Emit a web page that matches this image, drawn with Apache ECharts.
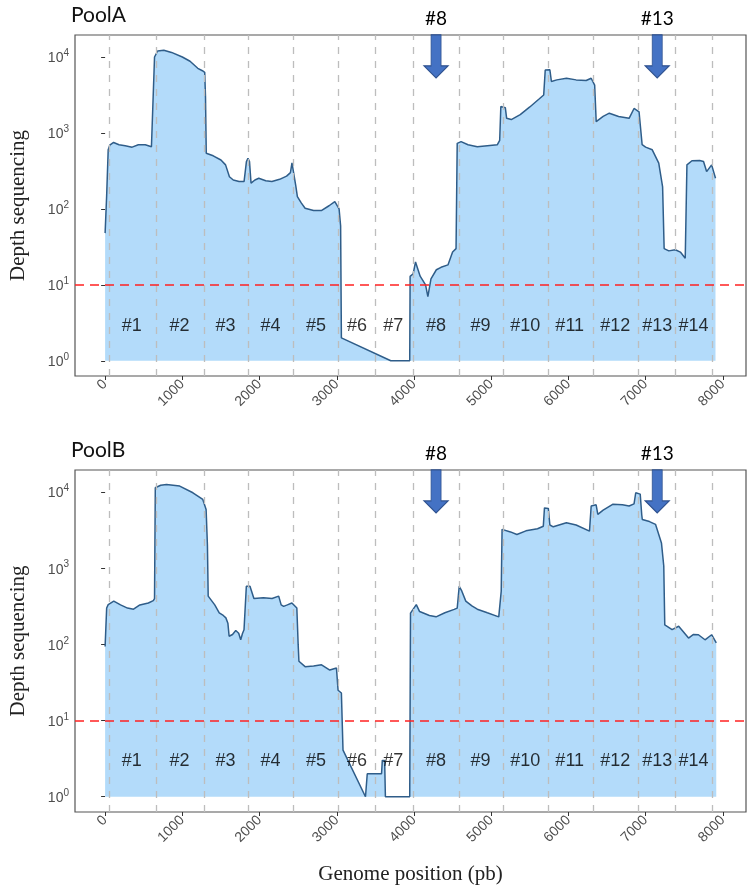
<!DOCTYPE html>
<html>
<head>
<meta charset="utf-8">
<script src="https://cdn.jsdelivr.net/npm/echarts@6/dist/echarts.min.js"></script>
<style>
  html, body { margin: 0; padding: 0; background: #fff; }
  #chart { width: 748px; height: 887px; }
</style>
</head>
<body>
<div id="chart"></div>
<script>
// amplicon boundaries and names
const boundaries = [50, 665, 1278, 1850, 2440, 3020, 3498, 3988, 4582, 5160, 5744, 6325, 6908, 7390, 7868]
const ampNames = ['#1', '#2', '#3', '#4', '#5', '#6', '#7', '#8', '#9', '#10', '#11', '#12', '#13', '#14']
const ampCenters = [346, 962, 1560, 2141, 2731, 3261, 3731, 4286, 4863, 5440, 6017, 6607, 7150, 7619]
const arrowNames = ['#8', '#13']
const arrowPos = [4286, 7150]
const threshold = 10
const yTicks = [1, 10, 100, 1000, 10000]
const xTicks = [0, 1000, 2000, 3000, 4000, 5000, 6000, 7000, 8000]

// PoolA coverage
const posA = [0, 20, 40, 60, 110, 180, 260, 350, 430, 520, 600, 625, 640, 680, 760, 860, 1000, 1100, 1200, 1260,
  1290, 1300, 1310, 1400, 1500, 1560, 1610, 1660, 1735, 1800, 1830, 1850, 1870, 1890, 1940, 1990, 2080, 2160,
  2260, 2350, 2400, 2420, 2440, 2470, 2490, 2540, 2590, 2700, 2800, 2900, 2975, 3030, 3050, 3060, 3700, 3945,
  3950, 3990, 4020, 4080, 4150, 4180, 4220, 4290, 4350, 4440, 4500, 4545, 4560, 4610, 4700, 4820, 4950, 5080,
  5110, 5125, 5183, 5200, 5260, 5376, 5500, 5620, 5680, 5700, 5760, 5780, 5850, 5975, 6100, 6230, 6295, 6340,
  6360, 6450, 6530, 6650, 6786, 6850, 6915, 6955, 7000, 7086, 7170, 7220, 7240, 7300, 7385, 7450, 7513, 7535,
  7600, 7700, 7750, 7790, 7855, 7905]
const depthA = [48, 150, 600, 690, 750, 700, 680, 650, 700, 700, 660, 660, 10000, 12000, 12300, 11500, 10000, 8800, 7100, 6600,
  6300, 3000, 540, 500, 440, 380, 265, 240, 230, 230, 420, 465, 420, 218, 240, 253, 235, 230,
  245, 270, 300, 405, 400, 200, 145, 120, 102, 95, 95, 110, 125, 100, 60, 2.0, 1, 1,
  12.9, 14, 20, 13, 10, 7, 12, 15.8, 17, 18.3, 27, 30, 730, 770, 700, 660, 680, 700,
  800, 2230, 2150, 1560, 1500, 1740, 2200, 2800, 3160, 6760, 6800, 4760, 5000, 5250, 5000, 4900, 5250, 4270,
  1410, 1650, 1820, 1650, 1560, 2100, 1900, 700, 650, 600, 400, 195, 30, 28, 29, 27, 22.4, 380,
  430, 435, 420, 310, 380, 253]

// PoolB coverage
const posB = [0, 20, 40, 112, 200, 290, 368, 450, 560, 624, 640, 650, 720, 795, 966, 1137, 1265, 1308, 1325, 1335,
  1420, 1478, 1530, 1564, 1590, 1606, 1650, 1692, 1730, 1756, 1780, 1799, 1829, 1876, 1927, 2050, 2162, 2248,
  2280, 2312, 2360, 2419, 2483, 2500, 2510, 2590, 2700, 2803, 2910, 2996, 3017, 3060, 3081, 3372, 3392, 3395,
  3580, 3590, 3620, 3630, 3945, 3955, 4030, 4073, 4200, 4286, 4400, 4521, 4560, 4586, 4620, 4671, 4750, 4820,
  4950, 5098, 5130, 5141, 5250, 5333, 5450, 5600, 5675, 5690, 5740, 5760, 5804, 5974, 6100, 6273, 6295, 6359,
  6381, 6450, 6573, 6700, 6786, 6850, 6872, 6930, 6950, 6957, 7050, 7128, 7205, 7235, 7248, 7343, 7428, 7480,
  7556, 7620, 7684, 7769, 7855, 7915]
const depthB = [94, 300, 333, 370, 330, 300, 290, 330, 350, 375, 400, 11400, 12300, 12600, 12000, 9800, 8000, 5900, 2000, 430,
  330, 260, 240, 223, 190, 128, 135, 152, 140, 115, 140, 156, 580, 580, 400, 410, 400, 430,
  330, 316, 330, 350, 300, 100, 60, 51, 52, 54, 46, 49, 25, 23, 4.1, 1, 1, 2,
  2, 3, 3, 1, 1, 258, 333, 270, 240, 230, 260, 288, 300, 580, 500, 370, 320, 290,
  260, 230, 500, 3240, 3000, 2770, 3100, 3300, 3560, 6200, 6100, 3700, 3500, 3960, 3700, 3070, 6560, 6800,
  5100, 5800, 6900, 6800, 6560, 7000, 9800, 9400, 5000, 4370, 4100, 3770, 2150, 1070, 180, 156, 173, 150,
  121, 135, 134, 115, 134, 105]

const chart = echarts.init(document.getElementById('chart'))

const tickColor = '#4d4d4d'
const sansFont = 'Liberation Sans'

function zip(xs, ys) {
  return xs.map((x, i) => [x, ys[i]])
}

function makeXAxis(idx, showName) {
  return {
    type: 'value',
    gridIndex: idx,
    min: -390,
    max: 8300,
    axisLine: { show: false },
    splitLine: { show: false },
    axisTick: { show: true, length: 4, customValues: xTicks, lineStyle: { color: '#333' } },
    axisLabel: {
      customValues: xTicks,
      rotate: 45,
      color: tickColor,
      fontSize: 14,
      fontFamily: sansFont,
      margin: 6,
      formatter: v => String(v)
    },
    name: showName ? 'Genome position (pb)' : '',
    nameLocation: 'middle',
    nameGap: 52,
    nameTextStyle: { fontFamily: 'Liberation Serif', fontSize: 21, color: '#222' }
  }
}

function makeYAxis(idx) {
  return {
    type: 'log',
    logBase: 10,
    gridIndex: idx,
    min: 0.63,
    max: 19500,
    axisLine: { show: false },
    splitLine: { show: false },
    axisTick: { show: true, length: 4, customValues: yTicks, lineStyle: { color: '#333' } },
    axisLabel: {
      customValues: yTicks,
      margin: 6,
      formatter: v => '{b|10}{s|' + Math.round(Math.log10(v)) + '}',
      rich: {
        b: { fontSize: 14, color: tickColor, fontFamily: sansFont, lineHeight: 17, verticalAlign: 'bottom' },
        s: { fontSize: 10, color: tickColor, fontFamily: sansFont, verticalAlign: 'top' }
      }
    },
    name: 'Depth sequencing',
    nameLocation: 'middle',
    nameGap: 46,
    nameTextStyle: { fontFamily: 'Liberation Serif', fontSize: 21, color: '#222' }
  }
}

function lineSeries(idx, pos, depth) {
  return {
    type: 'line',
    xAxisIndex: idx,
    yAxisIndex: idx,
    z: 2,
    data: zip(pos, depth),
    symbol: 'none',
    smooth: false,
    lineStyle: { color: '#2f5d89', width: 1.5 },
    areaStyle: { color: '#b3dbfa', opacity: 1, origin: 1 },
    markLine: {
      silent: true,
      symbol: 'none',
      label: { show: false },
      data: [
        ...boundaries.map(b => ({ xAxis: b, lineStyle: { color: '#bdbdbd', type: [7, 7], width: 1.3 } })),
        { yAxis: threshold, lineStyle: { color: '#f22', type: [9, 6], width: 1.5 } }
      ]
    }
  }
}

function labelSeries(idx) {
  return {
    type: 'scatter',
    xAxisIndex: idx,
    yAxisIndex: idx,
    z: 10,
    symbolSize: 1,
    itemStyle: { color: 'rgba(0,0,0,0)' },
    silent: true,
    data: ampNames.map((n, i) => ({ name: n, value: [ampCenters[i], 2.9] })),
    label: {
      show: true,
      position: 'inside',
      formatter: '{b}',
      color: '#000',
      fontSize: 18,
      fontFamily: sansFont
    },
    labelLayout: { hideOverlap: false },
    markPoint: {
      silent: true,
      symbol: 'path://M7,0 L17,0 L17,31 L24,31 L12,43 L0,31 L7,31 Z',
      symbolSize: [24, 43],
      symbolKeepAspect: false,
      itemStyle: { color: '#4472c4', borderColor: '#2f528f', borderWidth: 1, opacity: 1 },
      label: {
        show: true,
        position: 'top',
        distance: 6,
        formatter: '{b}',
        color: '#000',
        fontSize: 19,
        fontFamily: 'Lato'
      },
      data: arrowNames.map((n, i) => ({ name: n, coord: [arrowPos[i], 10200] }))
    }
  }
}

const option = {
  animation: false,
  title: [
    { text: 'PoolA', left: 66, top: 0, textStyle: { fontFamily: 'Lato', fontSize: 21, fontWeight: 'normal', color: '#111' } },
    { text: 'PoolB', left: 66, top: 435, textStyle: { fontFamily: 'Lato', fontSize: 21, fontWeight: 'normal', color: '#111' } }
  ],
  grid: [
    { left: 68, right: 2, top: 35, height: 341, show: true, borderColor: '#555', borderWidth: 1.2, backgroundColor: '#fff' },
    { left: 68, right: 2, top: 470, height: 342, show: true, borderColor: '#555', borderWidth: 1.2, backgroundColor: '#fff' }
  ],
  xAxis: [makeXAxis(0, false), makeXAxis(1, true)],
  yAxis: [makeYAxis(0), makeYAxis(1)],
  series: [
    lineSeries(0, posA, depthA),
    lineSeries(1, posB, depthB),
    labelSeries(0),
    labelSeries(1)
  ]
}

chart.setOption(option)

window.onresize = () => {
  chart.resize()
}
</script>
</body>
</html>
